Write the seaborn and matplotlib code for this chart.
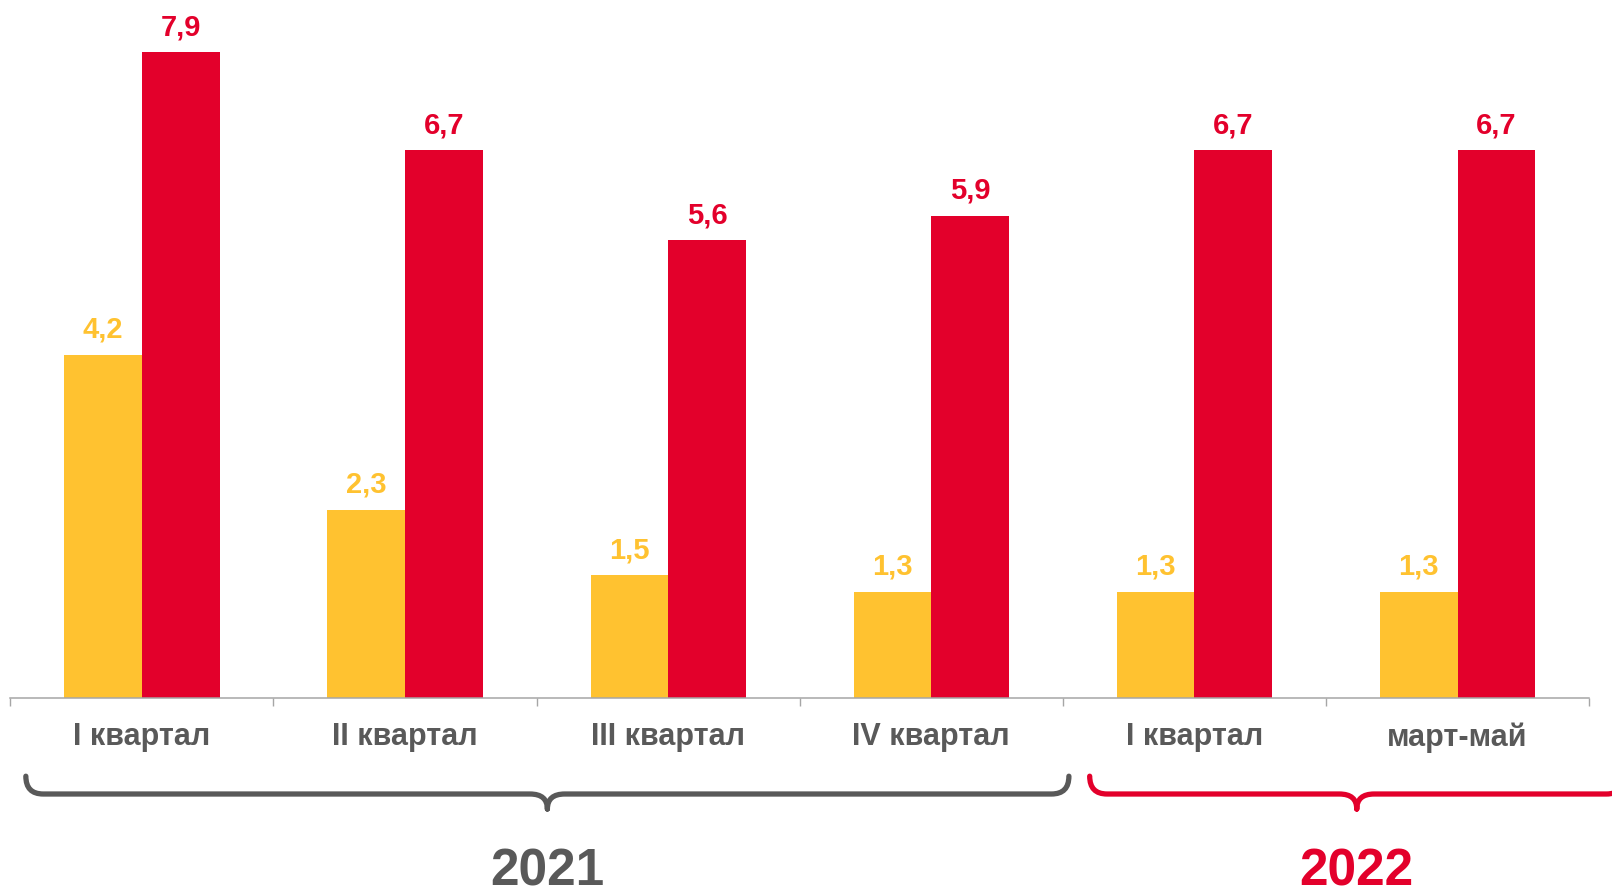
import numpy as np
import pandas as pd
import matplotlib
matplotlib.use("Agg")
import matplotlib.pyplot as plt
import matplotlib.transforms as mtransforms
from matplotlib.path import Path
from matplotlib.patches import PathPatch
import seaborn as sns

# data
period_keys = ["2021 I", "2021 II", "2021 III", "2021 IV", "2022 I", "2022 III-V"]
period_labels = ["I квартал", "II квартал", "III квартал", "IV квартал", "I квартал", "март-май"]
series_low = [4.2, 2.3, 1.5, 1.3, 1.3, 1.3]
series_high = [7.9, 6.7, 5.6, 5.9, 6.7, 6.7]
series_names = ["низкий", "высокий"]
years = ["2021", "2022"]

YELLOW = "#FFC230"
RED = "#E3002B"
GRAY = "#595959"
AXIS_GRAY = "#A6A6A6"

df = pd.DataFrame({
    "period": period_keys * 2,
    "series": [series_names[0]] * len(period_keys) + [series_names[1]] * len(period_keys),
    "value": series_low + series_high,
})

sns.set_style("white")
plt.rcParams["font.family"] = ["Liberation Sans", "DejaVu Sans"]

fig = plt.figure(figsize=(16.12, 8.90), dpi=100)
ax = fig.add_axes([0.0064, 0.2157, 0.9794, 0.7843])

sns.barplot(data=df, x="period", y="value", hue="series", order=period_keys,
            hue_order=series_names, palette=[YELLOW, RED], width=0.59, gap=0,
            errorbar=None, legend=False, saturation=1, linewidth=0, ax=ax)

ax.set_xlim(-0.5, len(period_keys) - 0.5)
ax.set_ylim(0, 8.54)

for cont, col in zip(ax.containers, [YELLOW, RED]):
    ax.bar_label(cont, labels=[f"{v:.1f}".replace(".", ",") for v in cont.datavalues],
                 padding=8, color=col, fontsize=21, fontweight="bold")

# axis styling
for s in ["top", "left", "right"]:
    ax.spines[s].set_visible(False)
ax.spines["bottom"].set_color(AXIS_GRAY)
ax.spines["bottom"].set_linewidth(1.1)
ax.set_yticks([])
ax.set_xlabel("")
ax.set_ylabel("")
ax.set_xticks(range(len(period_keys)))
ax.set_xticklabels(period_labels, fontsize=22, fontweight="bold", color=GRAY)
ax.set_xticks(np.arange(-0.5, len(period_keys), 1), minor=True)
ax.tick_params(axis="x", which="major", length=0, pad=17.5)
ax.tick_params(axis="x", which="minor", bottom=True, length=6, width=1, color=AXIS_GRAY)


# curly braces under the year groups
trans = mtransforms.blended_transform_factory(ax.transData, ax.transAxes)


def brace(x0, x1, color, y_top=-0.112, y_line=-0.1375, y_tip=-0.159, r=0.066):
    xc = (x0 + x1) / 2
    verts = [(x0, y_top), (x0, y_line), (x0 + r, y_line),
             (xc - r, y_line), (xc, y_line), (xc, y_tip),
             (xc, y_tip), (xc, y_line), (xc + r, y_line),
             (x1 - r, y_line), (x1, y_line), (x1, y_top)]
    codes = [Path.MOVETO, Path.CURVE3, Path.CURVE3,
             Path.LINETO, Path.CURVE3, Path.CURVE3,
             Path.MOVETO, Path.CURVE3, Path.CURVE3,
             Path.LINETO, Path.CURVE3, Path.CURVE3]
    patch = PathPatch(Path(verts, codes), fill=False, edgecolor=color, lw=3.8,
                      capstyle="round", joinstyle="round", transform=trans, clip_on=False)
    ax.add_patch(patch)
    return xc


c1 = brace(-0.441, 3.523, GRAY)
c2 = brace(3.602, 5.632, RED)

ax.text(c1, -0.268, years[0], transform=trans, ha="center", va="baseline",
        fontsize=37, fontweight="bold", color=GRAY)
ax.text(c2, -0.268, years[1], transform=trans, ha="center", va="baseline",
        fontsize=37, fontweight="bold", color=RED)

fig.savefig("out.png", dpi=100)
